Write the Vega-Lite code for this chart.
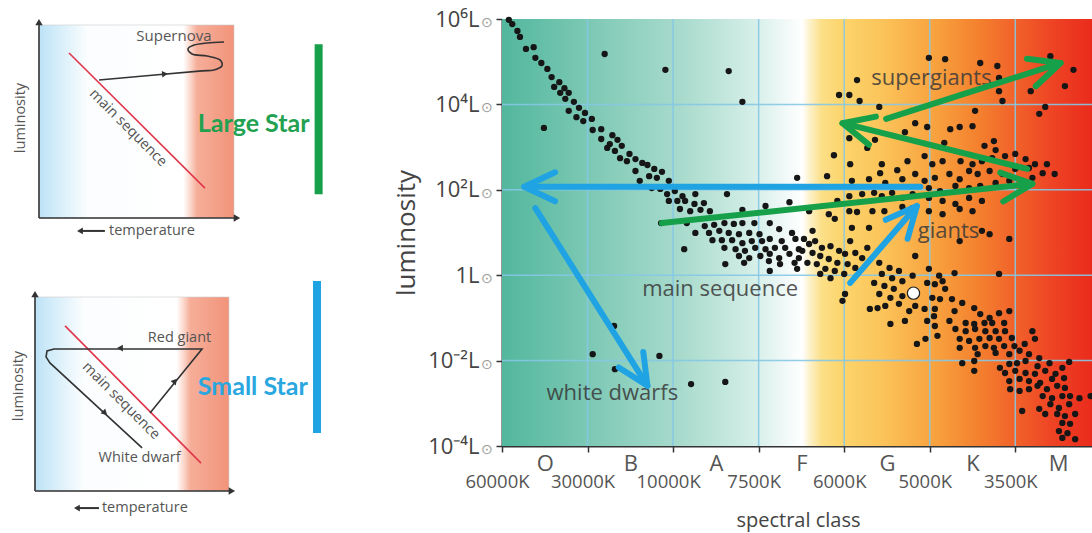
{
  "$schema": "https://vega.github.io/schema/vega-lite/v6.json",
  "background": "white",
  "padding": {"left": 11, "top": 8, "right": 0, "bottom": 6},
  "bounds": "flush",
  "spacing": 467,
  "config": {"view": {"stroke": null}, "font": "Open Sans"},
  "datasets": {
    "stars": [
      {"cls":0.08,"logL":5.98},{"cls":0.12,"logL":5.88},{"cls":0.18,"logL":5.72},{"cls":0.21,"logL":5.58},{"cls":0.28,"logL":5.30},{"cls":0.37,"logL":5.34},{"cls":0.39,"logL":5.09},{"cls":0.46,"logL":4.97},{"cls":0.53,"logL":4.83},{"cls":0.58,"logL":4.64},{"cls":0.67,"logL":4.52},{"cls":0.61,"logL":4.41},{"cls":0.73,"logL":4.38},{"cls":0.68,"logL":4.27},{"cls":0.78,"logL":4.27},{"cls":0.74,"logL":4.13},{"cls":0.84,"logL":4.06},{"cls":0.90,"logL":3.92},{"cls":0.78,"logL":3.85},{"cls":0.97,"logL":3.80},{"cls":0.87,"logL":3.70},{"cls":1.05,"logL":3.66},{"cls":0.95,"logL":3.61},{"cls":1.16,"logL":3.42},{"cls":1.06,"logL":3.40},{"cls":1.29,"logL":3.28},{"cls":1.35,"logL":3.17},{"cls":1.16,"logL":3.19},{"cls":1.26,"logL":3.07},{"cls":1.40,"logL":3.03},{"cls":1.23,"logL":2.98},{"cls":1.32,"logL":2.91},{"cls":1.49,"logL":2.84},{"cls":1.38,"logL":2.74},{"cls":1.56,"logL":2.72},{"cls":1.46,"logL":2.67},{"cls":1.64,"logL":2.63},{"cls":1.20,"logL":5.18},{"cls":1.91,"logL":4.81},{"cls":2.65,"logL":4.78},{"cls":2.81,"logL":4.06},{"cls":0.49,"logL":3.45},{"cls":1.56,"logL":2.44},{"cls":1.61,"logL":2.21},{"cls":1.31,"logL":-1.19},{"cls":1.06,"logL":-1.85},{"cls":1.32,"logL":-2.20},{"cls":1.84,"logL":-1.89},{"cls":2.21,"logL":-2.55},{"cls":2.61,"logL":-2.50},
      {"cls":1.70,"logL":2.58},{"cls":1.78,"logL":2.49},{"cls":1.87,"logL":2.42},{"cls":1.72,"logL":2.32},{"cls":1.81,"logL":2.28},{"cls":1.95,"logL":2.21},{"cls":1.75,"logL":2.04},{"cls":1.85,"logL":2.02},{"cls":1.93,"logL":1.90},{"cls":2.02,"logL":1.97},{"cls":2.11,"logL":1.85},{"cls":2.26,"logL":1.90},{"cls":1.95,"logL":1.74},{"cls":2.05,"logL":1.74},{"cls":2.14,"logL":1.74},{"cls":2.25,"logL":1.67},{"cls":2.36,"logL":1.69},{"cls":2.08,"logL":1.55},{"cls":2.20,"logL":1.50},{"cls":2.32,"logL":1.53},{"cls":2.43,"logL":1.50},{"cls":2.63,"logL":1.90},{"cls":2.81,"logL":1.53},{"cls":3.36,"logL":1.71},{"cls":3.45,"logL":2.28},{"cls":3.08,"logL":1.62},{"cls":2.16,"logL":1.22},{"cls":2.37,"logL":1.15},{"cls":2.48,"logL":1.18},{"cls":2.60,"logL":1.22},{"cls":2.71,"logL":1.20},{"cls":2.81,"logL":1.22},{"cls":2.95,"logL":1.22},{"cls":3.13,"logL":1.22},{"cls":2.26,"logL":0.99},{"cls":2.42,"logL":0.99},{"cls":2.54,"logL":1.04},{"cls":2.65,"logL":0.99},{"cls":2.77,"logL":0.96},{"cls":2.89,"logL":0.99},{"cls":3.01,"logL":0.96},{"cls":3.24,"logL":1.08},{"cls":3.39,"logL":0.99},{"cls":2.46,"logL":0.82},{"cls":2.57,"logL":0.82},{"cls":2.69,"logL":0.82},{"cls":2.81,"logL":0.75},{"cls":2.92,"logL":0.80},{"cls":3.04,"logL":0.80},{"cls":3.13,"logL":0.85},{"cls":3.27,"logL":0.80},{"cls":3.43,"logL":0.85},{"cls":2.60,"logL":0.64},{"cls":2.73,"logL":0.61},{"cls":2.84,"logL":0.57},{"cls":2.96,"logL":0.64},{"cls":3.08,"logL":0.61},{"cls":3.19,"logL":0.64},{"cls":3.31,"logL":0.64},{"cls":3.47,"logL":0.61},{"cls":2.77,"logL":0.45},{"cls":2.89,"logL":0.40},{"cls":3.02,"logL":0.45},{"cls":3.13,"logL":0.50},{"cls":3.24,"logL":0.40},{"cls":3.36,"logL":0.50},{"cls":3.47,"logL":0.40},{"cls":2.83,"logL":0.29},{"cls":3.12,"logL":0.33},{"cls":3.25,"logL":0.26},{"cls":3.42,"logL":0.29},{"cls":3.13,"logL":0.10},{"cls":3.45,"logL":0.15},{"cls":2.61,"logL":0.26},{"cls":2.13,"logL":0.61},{"cls":1.86,"logL":1.22},
      {"cls":4.15,"logL":4.57},{"cls":3.94,"logL":4.22},{"cls":4.06,"logL":4.22},{"cls":4.18,"logL":4.08},{"cls":4.41,"logL":3.94},{"cls":4.83,"logL":3.56},{"cls":4.71,"logL":3.35},{"cls":4.06,"logL":3.21},{"cls":4.36,"logL":3.17},
      {"cls":3.88,"logL":2.81},{"cls":4.07,"logL":2.60},{"cls":4.44,"logL":2.60},{"cls":4.42,"logL":2.39},{"cls":4.62,"logL":2.46},{"cls":4.74,"logL":2.67},{"cls":4.83,"logL":2.37},{"cls":3.80,"logL":2.32},{"cls":4.09,"logL":2.21},{"cls":4.29,"logL":2.25},{"cls":4.48,"logL":2.16},{"cls":4.68,"logL":2.25},{"cls":4.06,"logL":1.85},{"cls":4.21,"logL":1.90},{"cls":4.35,"logL":1.93},{"cls":4.44,"logL":1.85},{"cls":4.56,"logL":1.93},{"cls":4.68,"logL":1.81},{"cls":4.80,"logL":1.90},{"cls":3.92,"logL":1.74},{"cls":4.06,"logL":1.50},{"cls":4.15,"logL":1.48},{"cls":4.33,"logL":1.50},{"cls":4.47,"logL":1.50},{"cls":4.68,"logL":1.60},{"cls":4.80,"logL":1.57},{"cls":3.82,"logL":1.43},{"cls":3.89,"logL":1.32},{"cls":4.09,"logL":1.11},{"cls":4.29,"logL":1.11},{"cls":3.63,"logL":1.04},{"cls":4.27,"logL":2.98},{"cls":3.59,"logL":1.50},
      {"cls":3.53,"logL":0.85},{"cls":3.59,"logL":0.73},{"cls":3.66,"logL":0.80},{"cls":3.74,"logL":0.64},{"cls":3.84,"logL":0.68},{"cls":3.94,"logL":0.57},{"cls":4.01,"logL":0.50},{"cls":4.13,"logL":0.52},{"cls":4.21,"logL":0.40},{"cls":3.51,"logL":0.57},{"cls":3.63,"logL":0.52},{"cls":3.72,"logL":0.45},{"cls":3.82,"logL":0.38},{"cls":3.92,"logL":0.29},{"cls":4.04,"logL":0.26},{"cls":4.13,"logL":0.17},{"cls":3.57,"logL":0.29},{"cls":3.68,"logL":0.26},{"cls":3.78,"logL":0.15},{"cls":3.89,"logL":0.10},{"cls":4.00,"logL":0.03},{"cls":3.72,"logL":0.03},{"cls":3.84,"logL":-0.07},{"cls":4.41,"logL":0.29},{"cls":4.53,"logL":0.17},{"cls":4.64,"logL":0.10},{"cls":4.44,"logL":0.03},{"cls":4.56,"logL":-0.07},{"cls":4.68,"logL":-0.14},{"cls":4.80,"logL":-0.01},{"cls":4.35,"logL":-0.18},{"cls":4.47,"logL":-0.25},{"cls":4.58,"logL":-0.32},{"cls":4.41,"logL":-0.44},{"cls":4.54,"logL":-0.53},{"cls":4.68,"logL":-0.49},{"cls":4.01,"logL":-0.44},{"cls":3.98,"logL":-0.60},{"cls":4.48,"logL":-0.72},{"cls":4.64,"logL":-0.67},{"cls":4.83,"logL":-0.72},{"cls":4.07,"logL":0.80},{"cls":4.27,"logL":0.64},{"cls":4.83,"logL":0.45},{"cls":4.30,"logL":-0.79},{"cls":4.39,"logL":-0.77},{"cls":4.54,"logL":-1.14},{"cls":4.71,"logL":-1.07},{"cls":4.76,"logL":-0.84},{"cls":4.85,"logL":-1.61},
      {"cls":4.99,"logL":5.09},{"cls":5.18,"logL":5.06},{"cls":5.59,"logL":4.97},{"cls":5.79,"logL":4.90},{"cls":5.81,"logL":4.62},{"cls":5.81,"logL":4.31},{"cls":5.85,"logL":4.08},{"cls":5.53,"logL":3.85},{"cls":6.41,"logL":5.13},{"cls":6.49,"logL":4.95},{"cls":6.68,"logL":4.81},{"cls":6.58,"logL":4.43},{"cls":6.35,"logL":3.94},{"cls":6.28,"logL":3.78},{"cls":4.97,"logL":3.47},{"cls":5.24,"logL":3.42},{"cls":5.35,"logL":3.47},{"cls":5.50,"logL":3.49},{"cls":5.17,"logL":3.10},{"cls":5.64,"logL":3.03},{"cls":5.75,"logL":3.14},{"cls":5.77,"logL":2.93},{"cls":4.94,"logL":2.79},{"cls":5.03,"logL":2.60},{"cls":5.15,"logL":2.67},{"cls":5.36,"logL":2.67},{"cls":5.50,"logL":2.60},{"cls":5.61,"logL":2.67},{"cls":5.73,"logL":2.74},{"cls":5.88,"logL":2.79},{"cls":6.00,"logL":2.84},{"cls":6.12,"logL":2.72},{"cls":6.23,"logL":2.60},{"cls":6.37,"logL":2.60},{"cls":6.46,"logL":2.37},{"cls":4.94,"logL":2.21},{"cls":5.06,"logL":2.28},{"cls":5.23,"logL":2.37},{"cls":5.35,"logL":2.25},{"cls":5.46,"logL":2.44},{"cls":5.56,"logL":2.37},{"cls":5.70,"logL":2.44},{"cls":5.85,"logL":2.37},{"cls":6.00,"logL":2.49},{"cls":6.16,"logL":2.51},{"cls":6.32,"logL":2.39},{"cls":4.99,"logL":2.04},{"cls":5.12,"logL":1.97},{"cls":5.30,"logL":2.09},{"cls":5.46,"logL":2.04},{"cls":5.59,"logL":2.09},{"cls":5.77,"logL":2.16},{"cls":5.93,"logL":2.21},{"cls":6.08,"logL":2.21},{"cls":6.20,"logL":2.28},{"cls":4.99,"logL":1.81},{"cls":5.15,"logL":1.74},{"cls":5.30,"logL":1.67},{"cls":5.46,"logL":1.81},{"cls":5.61,"logL":1.74},{"cls":4.99,"logL":1.50},{"cls":5.15,"logL":1.43},{"cls":5.35,"logL":1.55},{"cls":5.50,"logL":1.50},{"cls":5.70,"logL":0.96},{"cls":5.93,"logL":0.85},{"cls":5.35,"logL":0.80},{"cls":5.61,"logL":1.04},{"cls":6.18,"logL":4.31},
      {"cls":4.99,"logL":0.15},{"cls":5.29,"logL":0.05},{"cls":5.81,"logL":0.03},{"cls":5.11,"logL":-0.01},{"cls":4.97,"logL":-0.18},{"cls":5.06,"logL":-0.21},{"cls":5.15,"logL":-0.14},{"cls":5.18,"logL":-0.32},{"cls":5.03,"logL":-0.53},{"cls":5.12,"logL":-0.56},{"cls":5.26,"logL":-0.56},{"cls":5.38,"logL":-0.65},{"cls":5.52,"logL":-0.77},{"cls":4.94,"logL":-0.79},{"cls":5.06,"logL":-0.79},{"cls":5.29,"logL":-0.84},{"cls":5.59,"logL":-0.91},{"cls":5.70,"logL":-1.00},{"cls":5.81,"logL":-0.89},{"cls":5.93,"logL":-0.84},{"cls":5.05,"logL":-0.96},{"cls":5.23,"logL":-1.07},{"cls":5.42,"logL":-1.12},{"cls":5.52,"logL":-1.14},{"cls":5.64,"logL":-1.12},{"cls":5.73,"logL":-1.12},{"cls":5.87,"logL":-1.12},{"cls":4.97,"logL":-1.07},{"cls":5.06,"logL":-1.19},{"cls":5.30,"logL":-1.26},{"cls":5.42,"logL":-1.31},{"cls":5.53,"logL":-1.26},{"cls":5.65,"logL":-1.31},{"cls":5.77,"logL":-1.31},{"cls":5.88,"logL":-1.31},{"cls":5.96,"logL":-1.47},{"cls":6.20,"logL":-1.31},{"cls":6.23,"logL":-1.49},{"cls":4.95,"logL":-1.49},{"cls":5.09,"logL":-1.42},{"cls":5.35,"logL":-1.49},{"cls":5.46,"logL":-1.54},{"cls":5.58,"logL":-1.49},{"cls":5.70,"logL":-1.47},{"cls":5.81,"logL":-1.49},{"cls":5.35,"logL":-1.70},{"cls":5.53,"logL":-1.70},{"cls":5.65,"logL":-1.66},{"cls":5.75,"logL":-1.70},{"cls":5.87,"logL":-1.66},{"cls":5.99,"logL":-1.66},{"cls":6.11,"logL":-1.61},{"cls":5.56,"logL":-1.85},{"cls":5.77,"logL":-1.82},{"cls":5.93,"logL":-1.85},{"cls":6.05,"logL":-1.77},{"cls":6.16,"logL":-1.85},{"cls":6.28,"logL":-1.94},{"cls":5.38,"logL":-2.06},{"cls":5.52,"logL":-2.01},{"cls":5.52,"logL":-2.24},{"cls":5.82,"logL":-2.17},{"cls":5.93,"logL":-2.08},{"cls":6.02,"logL":-2.06},{"cls":6.12,"logL":-2.01},{"cls":6.26,"logL":-2.13},{"cls":6.40,"logL":-2.06},{"cls":6.63,"logL":-2.03},{"cls":5.88,"logL":-2.29},{"cls":6.00,"logL":-2.24},{"cls":6.12,"logL":-2.29},{"cls":6.23,"logL":-2.31},{"cls":6.35,"logL":-2.24},{"cls":6.47,"logL":-2.31},{"cls":6.55,"logL":-2.17},{"cls":5.93,"logL":-2.48},{"cls":6.05,"logL":-2.43},{"cls":6.16,"logL":-2.48},{"cls":6.29,"logL":-2.52},{"cls":6.43,"logL":-2.43},{"cls":6.57,"logL":-2.41},{"cls":5.94,"logL":-2.67},{"cls":6.05,"logL":-2.71},{"cls":6.16,"logL":-2.67},{"cls":6.26,"logL":-2.59},{"cls":6.37,"logL":-2.67},{"cls":6.49,"logL":-2.59},{"cls":6.58,"logL":-2.64},{"cls":6.32,"logL":-2.83},{"cls":6.43,"logL":-2.88},{"cls":6.55,"logL":-2.83},{"cls":6.64,"logL":-2.83},{"cls":6.75,"logL":-2.88},{"cls":6.88,"logL":-2.83},{"cls":6.08,"logL":-3.18},{"cls":6.28,"logL":-3.13},{"cls":6.41,"logL":-3.02},{"cls":6.51,"logL":-3.11},{"cls":6.63,"logL":-3.02},{"cls":6.35,"logL":-3.25},{"cls":6.49,"logL":-3.25},{"cls":6.58,"logL":-3.30},{"cls":6.70,"logL":-3.25},{"cls":6.55,"logL":-3.46},{"cls":6.64,"logL":-3.48},{"cls":6.51,"logL":-3.65},{"cls":6.61,"logL":-3.70},{"cls":6.55,"logL":-3.81},{"cls":6.70,"logL":-3.84}
    ],
    "tracks": [
      {"track":"small star","cls":4.89,"logL":2.07,"cls2":0.26,"logL2":2.07,"dir":180},
      {"track":"small star","cls":0.39,"logL":1.57,"cls2":1.70,"logL2":-2.59,"dir":57.8},
      {"track":"small star","cls":4.07,"logL":-0.18,"cls2":4.85,"logL2":1.62,"dir":311},
      {"track":"large star","cls":1.87,"logL":1.22,"cls2":6.20,"logL2":2.14,"dir":354},
      {"track":"large star","cls":6.14,"logL":2.49,"cls2":3.98,"logL2":3.56,"dir":194},
      {"track":"large star","cls":4.49,"logL":3.66,"cls2":6.53,"logL2":4.97,"dir":342}
    ]
  },
  "hconcat": [
    {
      "vconcat": [
        {
          "width": 199, "height": 199,
          "encoding": {
            "x": {"field": "x", "type": "quantitative", "scale": {"domain": [-2.05, 100], "nice": false, "zero": false}, "axis": null},
            "y": {"field": "y", "type": "quantitative", "scale": {"domain": [0, 103.1], "nice": false, "zero": false}, "axis": null}
          },
          "layer": [
            {"data": {"values": [{"x": 0, "x2": 100, "y": 0, "y2": 100}]},
             "mark": {"type": "rect", "stroke": "#cccccc", "strokeWidth": 0.6, "fill": {"gradient": "linear", "x1": 0, "x2": 1, "y1": 0, "y2": 0, "stops": [{"offset": 0, "color": "#bce2f6"}, {"offset": 0.1, "color": "#d6eefa"}, {"offset": 0.25, "color": "#fbfdfe"}, {"offset": 0.74, "color": "#ffffff"}, {"offset": 0.78, "color": "#fbd3c6"}, {"offset": 0.81, "color": "#f6ae99"}, {"offset": 1, "color": "#f2937a"}]}},
             "encoding": {"x2": {"field": "x2"}, "y2": {"field": "y2"}}},
            {"data": {"values": [{"x": 0, "y": 0, "x2": 0, "y2": 100}, {"x": 0, "y": 0, "x2": 100, "y2": 0}]},
             "mark": {"type": "rule", "color": "#333333", "strokeWidth": 1.6},
             "encoding": {"x2": {"field": "x2"}, "y2": {"field": "y2"}}},
            {"data": {"values": [{"x": 0, "y": 101.5, "dir": 270}, {"x": 101.5, "y": 0, "dir": 0}]},
             "mark": {"type": "point", "shape": "triangle-right", "filled": true, "color": "#333333", "size": 55, "opacity": 1},
             "encoding": {"angle": {"field": "dir", "type": "quantitative", "scale": null}}},
            {"data": {"values": [{"x": 15.4, "y": 85.5, "x2": 85.1, "y2": 15.5}]},
             "mark": {"type": "rule", "color": "#e0364a", "strokeWidth": 1.6},
             "encoding": {"x2": {"field": "x2"}, "y2": {"field": "y2"}}},
            {"data": {"values": [{"x": 30.8, "y": 71.5, "o": 1}, {"x": 83.6, "y": 76.2, "o": 2}, {"x": 89.7, "y": 76.7, "o": 3}, {"x": 93.8, "y": 78.8, "o": 4}, {"x": 92.8, "y": 81.9, "o": 5}, {"x": 86.2, "y": 83.9, "o": 6}, {"x": 78.5, "y": 85.0, "o": 7}, {"x": 76.4, "y": 87.6, "o": 8}, {"x": 79.5, "y": 89.6, "o": 9}, {"x": 86.2, "y": 90.7, "o": 10}, {"x": 94.9, "y": 91.2, "o": 11}]},
             "mark": {"type": "line", "color": "#333333", "strokeWidth": 1.6, "interpolate": "catmull-rom"},
             "encoding": {"order": {"field": "o", "type": "quantitative"}}},
            {"data": {"values": [{"x": 64.6, "y": 74.6, "dir": 355}, {"x": 21, "y": -6.7, "dir": 180}]},
             "mark": {"type": "point", "shape": "triangle-right", "filled": true, "color": "#333333", "size": 45, "opacity": 1},
             "encoding": {"angle": {"field": "dir", "type": "quantitative", "scale": null}}},
            {"data": {"values": [{"x": 22, "y": -6.7, "x2": 33.8, "y2": -6.7}]},
             "mark": {"type": "rule", "color": "#333333", "strokeWidth": 2},
             "encoding": {"x2": {"field": "x2"}, "y2": {"field": "y2"}}},
            {"data": {"values": [{"x": 69.2, "y": 94.3, "t": "Supernova"}]},
             "mark": {"type": "text", "fontSize": 15, "color": "#555555", "align": "center", "baseline": "middle"},
             "encoding": {"text": {"field": "t"}}},
            {"data": {"values": [{"x": 45.6, "y": 46.6, "t": "main sequence"}]},
             "mark": {"type": "text", "fontSize": 14.5, "color": "#555555", "align": "center", "baseline": "middle", "angle": 45},
             "encoding": {"text": {"field": "t"}}},
            {"data": {"values": [{"x": -9.2, "y": 51.8, "t": "luminosity"}]},
             "mark": {"type": "text", "fontSize": 14.5, "color": "#555555", "align": "center", "baseline": "middle", "angle": 270},
             "encoding": {"text": {"field": "t"}}},
            {"data": {"values": [{"x": 35.9, "y": -6.7, "t": "temperature"}]},
             "mark": {"type": "text", "fontSize": 14.5, "color": "#555555", "align": "left", "baseline": "middle"},
             "encoding": {"text": {"field": "t"}}},
            {"data": {"values": [{"x": 110.1, "y": 48.5, "t": "Large Star"}]},
             "mark": {"type": "text", "font": "Lato", "fontSize": 25, "fontWeight": "bold", "color": "#22a150", "align": "center", "baseline": "middle"},
             "encoding": {"text": {"field": "t"}}},
            {"data": {"values": [{"x": 143.4, "y": 12.3, "x2": 143.4, "y2": 90.0}]},
             "mark": {"type": "rule", "color": "#16a04a", "strokeWidth": 8},
             "encoding": {"x2": {"field": "x2"}, "y2": {"field": "y2"}}}
          ]
        },
        {
          "width": 199, "height": 194,
          "encoding": {
            "x": {"field": "x", "type": "quantitative", "scale": {"domain": [0, 102.6], "nice": false, "zero": false}, "axis": null},
            "y": {"field": "y", "type": "quantitative", "scale": {"domain": [0, 100], "nice": false, "zero": false}, "axis": null}
          },
          "layer": [
            {"data": {"values": [{"x": 0, "x2": 100, "y": 0, "y2": 100}]},
             "mark": {"type": "rect", "stroke": "#cccccc", "strokeWidth": 0.6, "fill": {"gradient": "linear", "x1": 0, "x2": 1, "y1": 0, "y2": 0, "stops": [{"offset": 0, "color": "#bce2f6"}, {"offset": 0.1, "color": "#d6eefa"}, {"offset": 0.25, "color": "#fbfdfe"}, {"offset": 0.73, "color": "#ffffff"}, {"offset": 0.77, "color": "#fbd3c6"}, {"offset": 0.8, "color": "#f6ae99"}, {"offset": 1, "color": "#f2937a"}]}},
             "encoding": {"x2": {"field": "x2"}, "y2": {"field": "y2"}}},
            {"data": {"values": [{"x": 0, "y": 0, "x2": 0, "y2": 100}, {"x": 0, "y": 0, "x2": 100, "y2": 0}]},
             "mark": {"type": "rule", "color": "#333333", "strokeWidth": 1.6},
             "encoding": {"x2": {"field": "x2"}, "y2": {"field": "y2"}}},
            {"data": {"values": [{"x": 0, "y": 101.5, "dir": 270}, {"x": 101.5, "y": 0, "dir": 0}]},
             "mark": {"type": "point", "shape": "triangle-right", "filled": true, "color": "#333333", "size": 55, "opacity": 1},
             "encoding": {"angle": {"field": "dir", "type": "quantitative", "scale": null}}},
            {"data": {"values": [{"x": 15.5, "y": 85.1, "x2": 85.6, "y2": 14.4}]},
             "mark": {"type": "rule", "color": "#e0364a", "strokeWidth": 1.6},
             "encoding": {"x2": {"field": "x2"}, "y2": {"field": "y2"}}},
            {"data": {"values": [{"x": 59.3, "y": 40.2, "o": 1}, {"x": 86.1, "y": 73.2, "o": 2}, {"x": 9.8, "y": 73.2, "o": 3}, {"x": 6.2, "y": 72.2, "o": 4}, {"x": 5.7, "y": 69.1, "o": 5}, {"x": 7.7, "y": 66.0, "o": 6}, {"x": 55.2, "y": 22.2, "o": 7}]},
             "mark": {"type": "line", "color": "#333333", "strokeWidth": 1.6},
             "encoding": {"order": {"field": "o", "type": "quantitative"}}},
            {"data": {"values": [{"x": 43.8, "y": 73.7, "dir": 180}, {"x": 72.2, "y": 56.7, "dir": 310}, {"x": 36.1, "y": 40.2, "dir": 43}, {"x": 21.6, "y": -8.8, "dir": 180}]},
             "mark": {"type": "point", "shape": "triangle-right", "filled": true, "color": "#333333", "size": 45, "opacity": 1},
             "encoding": {"angle": {"field": "dir", "type": "quantitative", "scale": null}}},
            {"data": {"values": [{"x": 22.5, "y": -8.8, "x2": 33, "y2": -8.8}]},
             "mark": {"type": "rule", "color": "#333333", "strokeWidth": 2},
             "encoding": {"x2": {"field": "x2"}, "y2": {"field": "y2"}}},
            {"data": {"values": [{"x": 74.5, "y": 78.9, "t": "Red giant"}, {"x": 53.9, "y": 17.2, "t": "White dwarf"}]},
             "mark": {"type": "text", "fontSize": 14.5, "color": "#555555", "align": "center", "baseline": "middle"},
             "encoding": {"text": {"field": "t"}}},
            {"data": {"values": [{"x": 44.3, "y": 46.4, "t": "main sequence"}]},
             "mark": {"type": "text", "fontSize": 14.5, "color": "#555555", "align": "center", "baseline": "middle", "angle": 45},
             "encoding": {"text": {"field": "t"}}},
            {"data": {"values": [{"x": -8.0, "y": 54.1, "t": "luminosity"}]},
             "mark": {"type": "text", "fontSize": 14.5, "color": "#555555", "align": "center", "baseline": "middle", "angle": 270},
             "encoding": {"text": {"field": "t"}}},
            {"data": {"values": [{"x": 34.5, "y": -8.8, "t": "temperature"}]},
             "mark": {"type": "text", "fontSize": 14.5, "color": "#555555", "align": "left", "baseline": "middle"},
             "encoding": {"text": {"field": "t"}}},
            {"data": {"values": [{"x": 112.3, "y": 53.6, "t": "Small Star"}]},
             "mark": {"type": "text", "font": "Lato", "fontSize": 25, "fontWeight": "bold", "color": "#2aa7df", "align": "center", "baseline": "middle"},
             "encoding": {"text": {"field": "t"}}},
            {"data": {"values": [{"x": 145.4, "y": 29.9, "x2": 145.4, "y2": 108.2}]},
             "mark": {"type": "rule", "color": "#1fa3e3", "strokeWidth": 8},
             "encoding": {"x2": {"field": "x2"}, "y2": {"field": "y2"}}}
          ]
        }
      ],
      "spacing": 79,
      "bounds": "flush"
    },
    {
      "width": 592, "height": 427,
      "layer": [
        {"data": {"values": [{"cls": 0, "cls2": 6.92, "logL": -4, "logL2": 6}]},
         "mark": {"type": "rect", "fill": {"gradient": "linear", "x1": 0, "x2": 1, "y1": 0, "y2": 0, "stops": [{"offset": 0, "color": "#52b79d"}, {"offset": 0.152, "color": "#7ec9b5"}, {"offset": 0.304, "color": "#a9dbcd"}, {"offset": 0.422, "color": "#d3eee7"}, {"offset": 0.473, "color": "#eef8f6"}, {"offset": 0.507, "color": "#ffffff"}, {"offset": 0.52, "color": "#fdf1c8"}, {"offset": 0.54, "color": "#fcdf88"}, {"offset": 0.574, "color": "#fcd56c"}, {"offset": 0.642, "color": "#fbc45a"}, {"offset": 0.726, "color": "#f8a440"}, {"offset": 0.802, "color": "#f4822f"}, {"offset": 0.867, "color": "#f1622a"}, {"offset": 0.929, "color": "#ee4424"}, {"offset": 1, "color": "#ea2a1c"}]}},
         "encoding": {
           "x": {"field": "cls", "type": "quantitative", "scale": {"domain": [0, 6.92], "nice": false, "zero": false}},
           "x2": {"field": "cls2"},
           "y": {"field": "logL", "type": "quantitative", "scale": {"domain": [-4, 6], "nice": false, "zero": false}},
           "y2": {"field": "logL2"}
         }},
        {"data": {"values": [{"cls": 1}, {"cls": 2}, {"cls": 3}, {"cls": 4}, {"cls": 5}, {"cls": 6}]},
         "mark": {"type": "rule", "color": "#86c8e6", "strokeWidth": 1.5, "opacity": 0.9},
         "encoding": {"x": {"field": "cls", "type": "quantitative", "scale": {"domain": [0, 6.92], "nice": false, "zero": false}}}},
        {"data": {"values": [{"logL": -2}, {"logL": 0}, {"logL": 2}, {"logL": 4}]},
         "mark": {"type": "rule", "color": "#86c8e6", "strokeWidth": 1.5, "opacity": 0.9},
         "encoding": {"y": {"field": "logL", "type": "quantitative", "scale": {"domain": [-4, 6], "nice": false, "zero": false}}}},
        {"data": {"name": "stars"},
         "mark": {"type": "circle", "size": 40, "color": "#161616", "opacity": 1},
         "encoding": {
           "x": {"field": "cls", "type": "quantitative", "scale": {"domain": [0, 6.92], "nice": false, "zero": false},
             "axis": {"title": "spectral class", "values": [0, 0.5, 1, 1.5, 2, 2.5, 3, 3.5, 4, 4.5, 5, 5.5, 6, 6.5],
               "labelExpr": "['60000K','O','30000K','B','10000K','A','7500K','F','6000K','G','5000K','K','3500K','M'][round(datum.value*2)]",
               "grid": false, "domainColor": "#333333", "domainWidth": 2, "tickColor": "#333333", "tickWidth": 1.5, "tickSize": 6,
               "tickOpacity": {"condition": {"test": "datum.value != floor(datum.value)", "value": 0}, "value": 1},
               "labelFontSize": {"condition": {"test": "datum.value != floor(datum.value)", "value": 22}, "value": 18.5},
               "labelPadding": {"condition": {"test": "datum.value != floor(datum.value)", "value": 1}, "value": 20},
               "labelOffset": {"condition": {"test": "datum.value != floor(datum.value)", "value": 0}, "value": -5},
               "labelColor": "#555555", "labelFlush": false, "labelOverlap": false, "labelBound": false,
               "titleFontSize": 20, "titleFontWeight": "normal", "titleColor": "#444444", "titlePadding": 20}},
           "y": {"field": "logL", "type": "quantitative", "scale": {"domain": [-4, 6], "nice": false, "zero": false},
             "axis": {"title": "luminosity", "values": [-4, -2, 0, 2, 4, 6],
               "labelExpr": "['10⁻⁴L','','10⁻²L','','1L','','10²L','','10⁴L','','10⁶L'][datum.value+4]",
               "grid": false, "domainColor": "#333333", "domainWidth": 2, "tickColor": "#333333", "tickWidth": 1.5, "tickSize": 6,
               "labelFontSize": 22, "labelColor": "#444444", "labelPadding": 17, "labelFlush": false, "labelOverlap": false,
               "titleFontSize": 26, "titleFontWeight": "normal", "titleColor": "#444444", "titlePadding": 8}}
         }},
        {"data": {"values": [{"logL": -4}, {"logL": -2}, {"logL": 0}, {"logL": 2}, {"logL": 4}, {"logL": 6}]},
         "mark": {"type": "text", "text": "⊙", "fontSize": 14, "color": "#999999", "dx": -15, "dy": 4, "align": "center", "baseline": "middle"},
         "encoding": {
           "x": {"datum": 0, "type": "quantitative", "scale": {"domain": [0, 6.92], "nice": false, "zero": false}},
           "y": {"field": "logL", "type": "quantitative", "scale": {"domain": [-4, 6], "nice": false, "zero": false}}
         }},
        {"data": {"values": [{"cls": 4.81, "logL": -0.42}]},
         "mark": {"type": "circle", "size": 150, "fill": "#ffffff", "stroke": "#222222", "strokeWidth": 1.2, "opacity": 1},
         "encoding": {
           "x": {"field": "cls", "type": "quantitative", "scale": {"domain": [0, 6.92], "nice": false, "zero": false}},
           "y": {"field": "logL", "type": "quantitative", "scale": {"domain": [-4, 6], "nice": false, "zero": false}}
         }},
        {"data": {"values": [{"cls": 5.02, "logL": 4.62, "t": "supergiants"}, {"cls": 5.22, "logL": 1.04, "t": "giants"}, {"cls": 2.55, "logL": -0.32, "t": "main sequence"}, {"cls": 1.29, "logL": -2.76, "t": "white dwarfs"}]},
         "mark": {"type": "text", "fontSize": 22, "color": "#3a3a3a", "opacity": 0.85, "align": "center", "baseline": "middle"},
         "encoding": {
           "x": {"field": "cls", "type": "quantitative", "scale": {"domain": [0, 6.92], "nice": false, "zero": false}},
           "y": {"field": "logL", "type": "quantitative", "scale": {"domain": [-4, 6], "nice": false, "zero": false}},
           "text": {"field": "t"}
         }},
        {"data": {"name": "tracks"},
         "mark": {"type": "rule", "strokeWidth": 6, "strokeCap": "round"},
         "encoding": {
           "x": {"field": "cls", "type": "quantitative", "scale": {"domain": [0, 6.92], "nice": false, "zero": false}},
           "y": {"field": "logL", "type": "quantitative", "scale": {"domain": [-4, 6], "nice": false, "zero": false}},
           "x2": {"field": "cls2"}, "y2": {"field": "logL2"},
           "color": {"field": "track", "type": "nominal", "scale": {"domain": ["small star", "large star"], "range": ["#1fa3e3", "#16a04a"]}, "legend": null}
         }},
        {"data": {"name": "tracks"},
         "mark": {"type": "point", "shape": "M-1,-0.47L0,0L-1,0.47", "filled": false, "size": 3800, "strokeWidth": 6, "strokeCap": "round", "strokeJoin": "round", "opacity": 1},
         "encoding": {
           "x": {"field": "cls2", "type": "quantitative", "scale": {"domain": [0, 6.92], "nice": false, "zero": false}},
           "y": {"field": "logL2", "type": "quantitative", "scale": {"domain": [-4, 6], "nice": false, "zero": false}},
           "angle": {"field": "dir", "type": "quantitative", "scale": null},
           "color": {"field": "track", "type": "nominal", "scale": {"domain": ["small star", "large star"], "range": ["#1fa3e3", "#16a04a"]}, "legend": null}
         }}
      ]
    }
  ]
}
